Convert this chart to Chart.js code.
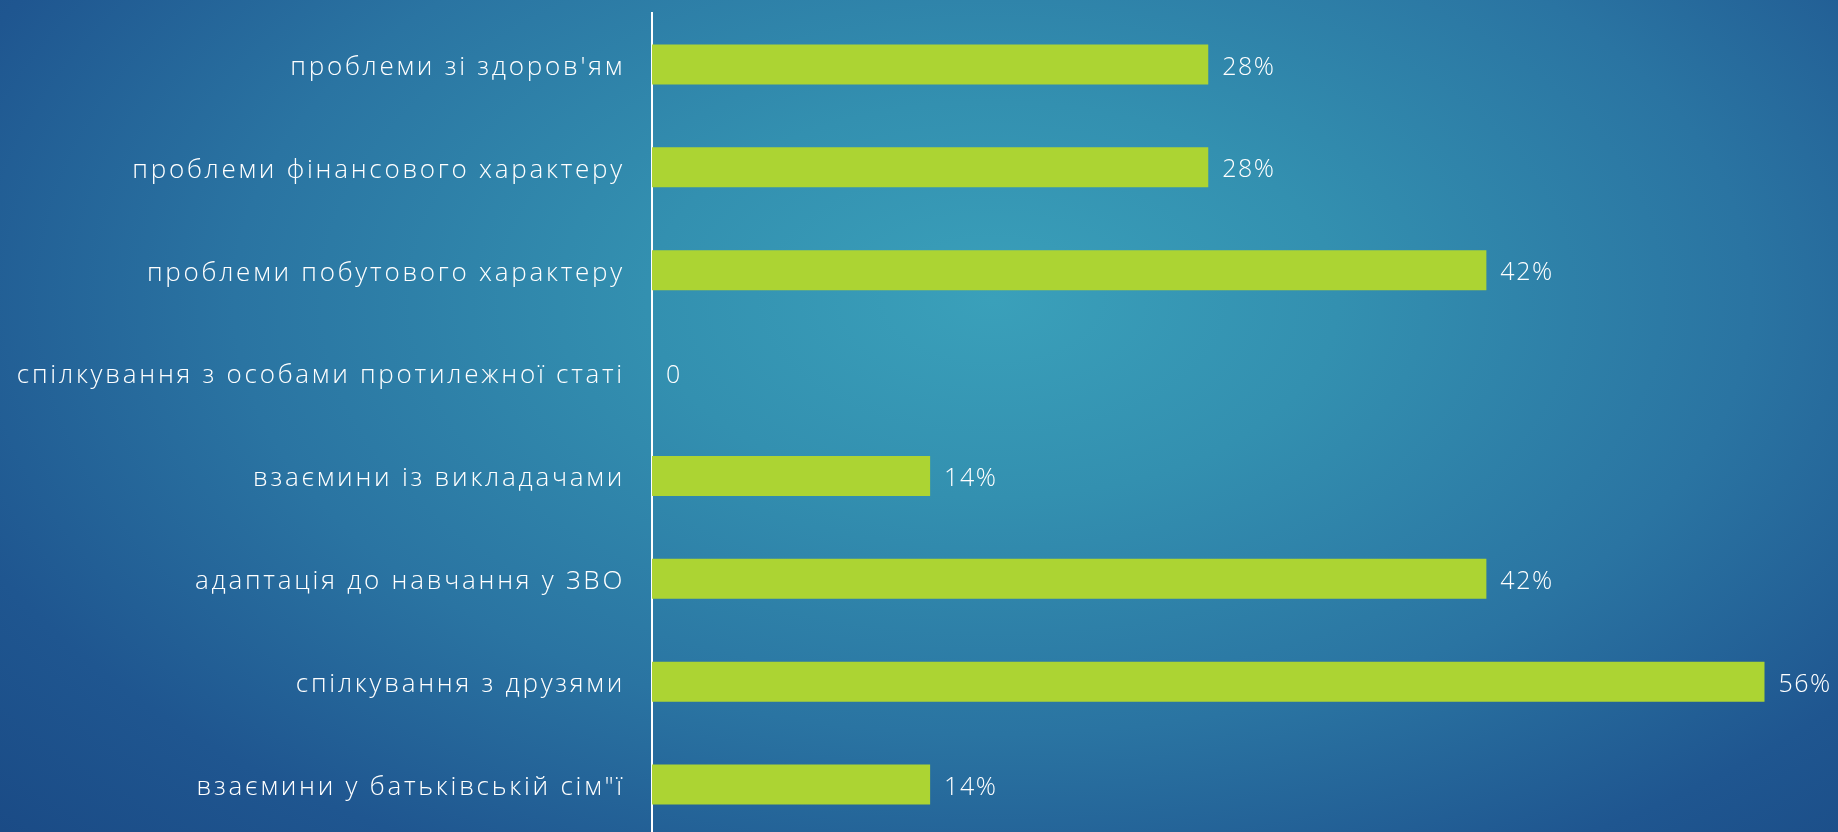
<!DOCTYPE html>
<html>
<head>
<meta charset="utf-8">
<script src="https://cdn.jsdelivr.net/npm/chart.js@4/dist/chart.umd.min.js"></script>
<style>
html,body{margin:0;padding:0;width:1838px;height:832px;overflow:hidden;}
body{background:radial-gradient(ellipse 75% 95% at 54% 36%, #3aa0ba 0%, #3390b0 25%, #2a74a2 55%, #1f5690 80%, #1a4a85 100%);}
#wrap{position:absolute;left:0;top:0;width:1838px;height:836px;}
</style>
</head>
<body>
<div id="wrap"><canvas id="c" width="1838" height="836"></canvas></div>
<script>
const categories = [
  "проблеми зі здоров'ям",
  "проблеми фінансового характеру",
  "проблеми побутового характеру",
  "спілкування з особами протилежної статі",
  "взаємини із викладачами",
  "адаптація до навчання у ЗВО",
  "спілкування з друзями",
  "взаємини у батьківській сім\"ї"
];
const values = [28, 28, 42, 0, 14, 42, 56, 14];
const valueLabels = ["28%", "28%", "42%", "0", "14%", "42%", "56%", "14%"];

const FONT = "'Open Sans', sans-serif";

const spacingPlugin = {
  id: 'spacing',
  beforeDraw(chart) { chart.ctx.letterSpacing = '2.75px'; }
};

const labelPlugin = {
  id: 'valueLabels',
  afterDatasetsDraw(chart) {
    const ctx = chart.ctx;
    const meta = chart.getDatasetMeta(0);
    ctx.save();
    ctx.letterSpacing = '1.5px';
    ctx.fillStyle = '#ffffff';
    ctx.font = "300 25px " + FONT;
    ctx.textAlign = 'left';
    ctx.textBaseline = 'middle';
    meta.data.forEach((bar, i) => {
      ctx.fillText(valueLabels[i], bar.x + 14, bar.y + 3);
    });
    ctx.restore();
  }
};

new Chart(document.getElementById('c'), {
  type: 'bar',
  data: {
    labels: categories,
    datasets: [{
      data: values,
      backgroundColor: '#acd433',
      borderWidth: 0,
      barPercentage: 0.39,
      categoryPercentage: 1
    }]
  },
  options: {
    indexAxis: 'y',
    responsive: false,
    animation: false,
    layout: { padding: { top: 13, right: 0, bottom: 0, left: 0 } },
    plugins: { legend: { display: false }, tooltip: { enabled: false } },
    scales: {
      x: { display: false, min: 0, max: 59.7 },
      y: {
        afterFit(scale) { scale.width = 652; scale.paddingTop = 0; scale.paddingBottom = 0; },
        grid: { display: false, drawTicks: false },
        border: { display: true, color: '#ffffff', width: 2 },
        ticks: { color: '#ffffff', padding: 27, labelOffset: 3, font: { family: FONT, size: 26, weight: 300 } }
      }
    }
  },
  plugins: [spacingPlugin, labelPlugin]
});
</script>
</body>
</html>
